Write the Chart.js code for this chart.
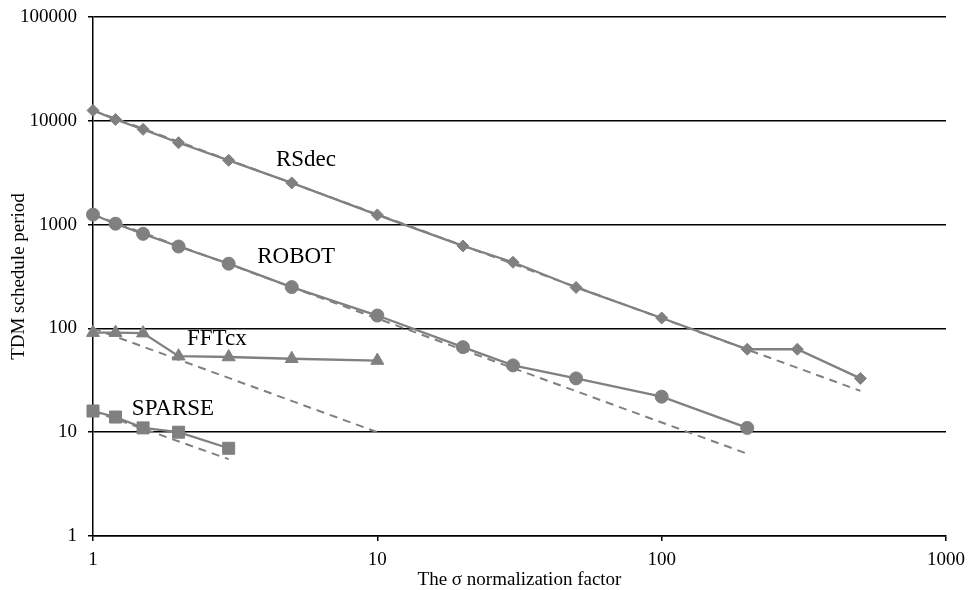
<!DOCTYPE html>
<html>
<head>
<meta charset="utf-8">
<script src="https://cdn.jsdelivr.net/npm/chart.js@4.4.1/dist/chart.umd.min.js"></script>
<style>
  html, body { margin: 0; padding: 0; background: #fff; }
  #wrap { width: 968px; height: 590px; }
</style>
</head>
<body>
<div id="wrap"><canvas id="tdmChart" width="968" height="590"></canvas></div>
<script>
// sigma normalization factors (x axis)
const sigmaValues = [1, 1.2, 1.5, 2, 3, 5, 10, 20, 30, 50, 100, 200, 300, 500];

// measured TDM schedule periods
const rsdecValues  = [12600, 10300, 8270, 6150, 4160, 2520, 1240, 623, 434, 248, 126, 63, 63, 33];
const robotValues  = [1250, 1020, 815, 615, 420, 250, 133, 66, 44, 33, 22, 11];
const fftcxValues  = [91, 91, 90, 54, 53, 51, 49];
const sparseValues = [16, 14, 11, 10, 7];

// ideal (dashed) lines: start and end points
const rsdecIdealX  = [1, 500];
const rsdecIdealY  = [12600, 25];
const robotIdealX  = [1, 200];
const robotIdealY  = [1250, 6.2];
const fftcxIdealX  = [1, 10];
const fftcxIdealY  = [100, 10];
const sparseIdealX = [1, 3];
const sparseIdealY = [16, 5.5];

// tick labels
const xTicks = [1, 10, 100, 1000];
const yTicks = [1, 10, 100, 1000, 10000, 100000];

// curve names, written next to the curves
const seriesNames = ['RSdec', 'ROBOT', 'FFTcx', 'SPARSE'];
const labelAtX = [4.4, 3.78, 2.14, 1.37];
const labelAtY = [3670, 427, 69, 14.6];

const GREY = '#808080';
const FONT = "'Liberation Serif', 'Times New Roman', serif";

function toPoints(xs, ys) {
    return ys.map((y, i) => ({ x: xs[i], y: y }));
}

function measured(label, ys, style, radius) {
    return {
        label: label,
        data: toPoints(sigmaValues, ys),
        borderColor: GREY,
        backgroundColor: GREY,
        borderWidth: 2.3,
        pointStyle: style,
        pointRadius: radius,
        pointBorderWidth: 1,
        pointBorderColor: GREY,
        pointBackgroundColor: GREY,
        tension: 0,
        clip: false,
        order: 1
    };
}

function ideal(xs, ys) {
    return {
        label: 'ideal',
        data: toPoints(xs, ys),
        borderColor: GREY,
        borderWidth: 2,
        borderDash: [8, 6],
        pointRadius: 0,
        tension: 0,
        order: 2
    };
}

// draws the curve names at data positions
const curveNames = {
    id: 'curveNames',
    afterDatasetsDraw(chart) {
        const ctx = chart.ctx;
        const xs = chart.scales.x, ys = chart.scales.y;
        ctx.save();
        ctx.fillStyle = '#000';
        ctx.font = '23px ' + FONT;
        ctx.textAlign = 'left';
        ctx.textBaseline = 'alphabetic';
        seriesNames.forEach((name, i) => {
            ctx.fillText(name, xs.getPixelForValue(labelAtX[i]), ys.getPixelForValue(labelAtY[i]));
        });
        ctx.restore();
    }
};

new Chart(document.getElementById('tdmChart').getContext('2d'), {
    type: 'line',
    data: {
        datasets: [
            ideal(rsdecIdealX, rsdecIdealY),
            ideal(robotIdealX, robotIdealY),
            ideal(fftcxIdealX, fftcxIdealY),
            ideal(sparseIdealX, sparseIdealY),
            measured('RSdec', rsdecValues, 'rectRot', 6),
            measured('ROBOT', robotValues, 'circle', 6.5),
            measured('FFTcx', fftcxValues, 'triangle', 7.5),
            measured('SPARSE', sparseValues, 'rect', 8.5)
        ]
    },
    options: {
        responsive: false,
        animation: false,
        layout: { padding: { top: 17, right: 22, bottom: 0, left: 0 } },
        plugins: {
            legend: { display: false },
            tooltip: { enabled: false }
        },
        scales: {
            x: {
                type: 'logarithmic',
                min: 1,
                max: 1000,
                afterBuildTicks: s => { s.ticks = xTicks.map(v => ({ value: v })); },
                afterFit: s => { s.height = 54; },
                grid: { drawOnChartArea: false, drawTicks: true, tickLength: 5, color: '#000', lineWidth: 1.5 },
                border: { display: true, color: '#000', width: 1.5 },
                ticks: {
                    color: '#000',
                    padding: 0,
                    maxRotation: 0,
                    autoSkip: false,
                    font: { family: FONT, size: 19, lineHeight: 1.96 },
                    callback: v => String(v)
                },
                title: {
                    display: true,
                    text: 'The σ normalization factor',
                    color: '#000',
                    font: { family: FONT, size: 19 },
                    padding: { top: 0, bottom: -1 }
                }
            },
            y: {
                type: 'logarithmic',
                min: 1,
                max: 100000,
                afterBuildTicks: s => { s.ticks = yTicks.map(v => ({ value: v })); },
                afterFit: s => { s.width = 93; },
                grid: { drawOnChartArea: true, drawTicks: true, tickLength: 5, color: '#000', lineWidth: 1.5 },
                border: { display: true, color: '#000', width: 1.5 },
                ticks: {
                    color: '#000',
                    padding: 11,
                    autoSkip: false,
                    font: { family: FONT, size: 19, lineHeight: 0.5 },
                    callback: v => String(v)
                },
                title: {
                    display: true,
                    text: 'TDM schedule period',
                    color: '#000',
                    font: { family: FONT, size: 19 },
                    padding: { top: 8, bottom: 0 }
                }
            }
        }
    },
    plugins: [curveNames]
});
</script>
</body>
</html>
